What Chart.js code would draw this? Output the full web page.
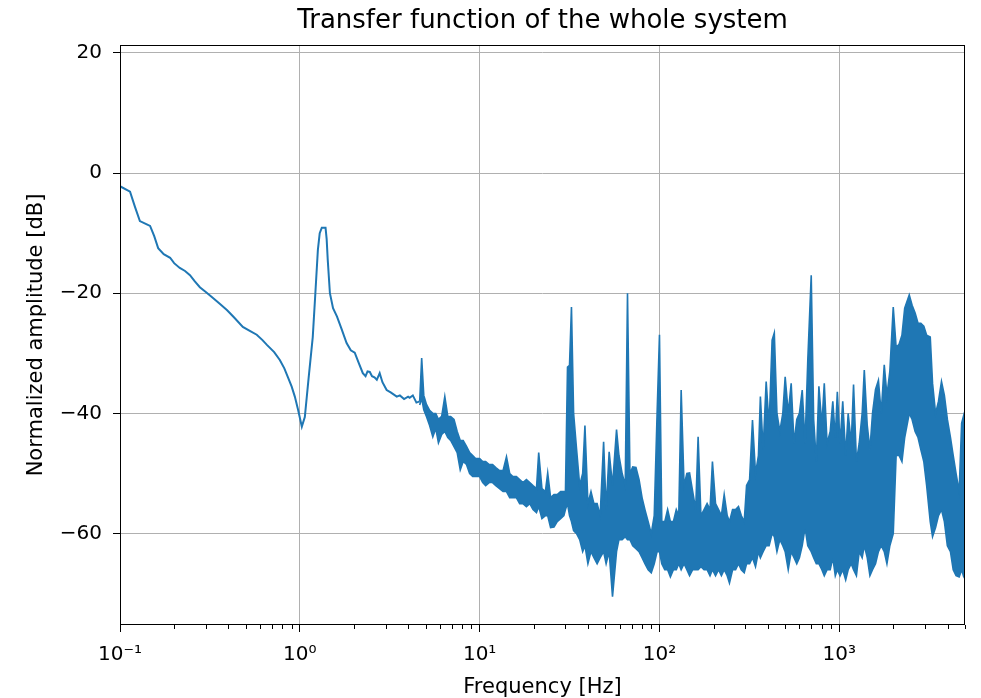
<!DOCTYPE html>
<html>
<head>
<meta charset="utf-8">
<title>Transfer function of the whole system</title>
<script src="https://cdn.jsdelivr.net/npm/chart.js@4.4.1/dist/chart.umd.min.js"></script>
<style>
  html, body { margin: 0; padding: 0; background: #fff; }
  canvas { display: block; }
</style>
</head>
<body>
<canvas id="chart" width="981" height="698"></canvas>
<script>
// Smooth part of the response (0.1 Hz - 4.5 Hz)
const lineFreq = [0.1, 0.1137, 0.121, 0.129, 0.14, 0.147, 0.155, 0.163, 0.175, 0.19, 0.2, 0.215, 0.23, 0.245, 0.26, 0.278,
  0.3, 0.329, 0.36, 0.393, 0.43, 0.482, 0.53, 0.576, 0.62, 0.656, 0.72, 0.774, 0.82, 0.857, 0.9, 0.938, 0.98, 1.026,
  1.066, 1.12, 1.18, 1.22, 1.26, 1.29, 1.325, 1.39, 1.41, 1.43, 1.47, 1.53, 1.61, 1.7, 1.82, 1.92, 2.02, 2.12, 2.24,
  2.32, 2.38, 2.45, 2.52, 2.6, 2.68, 2.78, 2.88, 3.04, 3.2, 3.46, 3.6, 3.8, 4.0, 4.08, 4.25, 4.45];
const lineAmp = [-2.2, -3.1, -5.6, -8.0, -8.5, -8.8, -10.5, -12.5, -13.5, -14.1, -15.0, -15.8, -16.3, -17.0, -18.0, -19.0,
  -19.8, -20.8, -21.8, -22.8, -24.0, -25.6, -26.3, -26.9, -27.8, -28.6, -29.8, -31.1, -32.5, -33.9, -35.5, -37.2, -39.5, -42.2,
  -40.6, -34.0, -27.3, -20.0, -12.8, -10.0, -9.1, -9.1, -11.0, -14.5, -20.0, -22.5, -23.9, -25.8, -28.3, -29.5, -29.9, -31.5, -33.3,
  -33.8, -33.0, -33.1, -33.8, -34.0, -34.4, -33.3, -34.8, -36.1, -36.5, -37.2, -37.0, -37.6, -37.2, -37.4, -37.0, -38.2];

// Noisy part (4.6 Hz - 5 kHz): upper and lower excursion at each frequency
const bandFreq = [4.64, 4.76, 4.89, 5.06, 5.27, 5.49, 5.7, 5.9, 6.15, 6.4, 6.65, 6.9, 7.2, 7.5, 7.8, 8.1, 8.45, 8.8,
  9.15, 9.5, 10.0, 10.4, 10.8, 11.3, 11.8, 12.3, 12.9, 13.5, 14.1, 14.7, 15.3, 16.0, 16.7, 17.4, 18.2, 19.0, 19.8,
  20.7, 21.3, 22.2, 23.2, 23.9, 24.8, 25.9, 27.0, 28.2, 29.4,
  30.0, 30.8, 31.6, 32.4, 33.3, 34.6, 36.0, 37.4, 38.5, 40.0, 41.6, 43.2, 45.0, 46.8, 48.9, 50.5, 52.5,
  54.8, 57.7, 59.5, 62.0, 64.5, 66.4, 68.5, 71.0, 74.0, 77.0, 80.0, 83.0, 86.5, 90.0, 93.5, 97.0, 100, 103, 107, 111,
  115, 119.5, 124, 128, 132, 137, 142, 147, 153, 159, 164, 170, 177, 184, 191, 197, 205, 213, 221, 229, 238, 245,
  255, 265, 275, 285, 296, 305, 317, 329, 342, 355, 364, 377, 392, 407, 423, 435, 450, 467, 485, 500, 520, 540,
  560, 580, 600, 622, 645, 668, 698, 720, 745, 770, 800, 825, 855, 890, 920, 950, 975, 1010, 1045, 1085, 1120,
  1165, 1200, 1245, 1290, 1340, 1377, 1430, 1480, 1530, 1590, 1650, 1710, 1778, 1840, 1910, 1995, 2070, 2150,
  2230, 2310, 2449, 2540, 2640, 2740, 2840, 2950, 3060, 3204, 3300, 3430, 3560, 3700, 3840, 3990, 4150, 4300,
  4460, 4640, 4790, 4900, 5000];
const bandHigh = [-38.0, -30.8, -37.0, -38.5, -39.5, -40.0, -40.0, -41.0, -40.5, -37.2, -40.5, -40.5, -41.0, -43.0, -44.5, -44.5, -45.5, -46.5,
  -47.0, -47.5, -47.5, -48.0, -48.0, -48.5, -48.5, -49.0, -49.5, -49.5, -47.2, -50.0, -50.5, -50.5, -51.0, -51.5, -51.0, -51.5, -52.0,
  -52.5, -46.5, -52.5, -53.0, -49.9, -54.0, -53.5, -53.5, -53.0, -53.0,
  -53.0, -32.3, -32.0, -22.3, -40.0, -46.0, -52.0, -50.0, -42.0, -55.0, -53.0, -55.0, -55.0, -57.0, -44.7, -56.0, -46.4,
  -52.0, -42.7, -47.0, -50.0, -52.0, -20.0, -50.0, -48.9, -49.0, -51.0, -54.0, -56.0, -58.0, -60.0, -57.0, -40.0, -26.9, -58.0, -58.0, -56.0,
  -58.0, -58.0, -56.0, -57.0, -36.1, -52.0, -50.0, -49.9, -53.0, -56.0, -43.9, -57.0, -56.0, -55.0, -56.0, -48.0, -55.0, -56.0, -57.0, -53.5, -57.0, -58.0,
  -56.0, -56.0, -55.5, -57.0, -58.0, -52.0, -51.0, -41.1, -50.0, -47.0, -37.2, -46.0, -34.7, -42.0, -27.8, -26.6, -40.0, -43.0, -40.0, -33.9, -40.0, -35.0,
  -45.0, -41.0, -40.0, -36.1, -45.0, -31.1, -17.0, -41.0, -48.0, -35.5, -42.0, -35.0, -45.0, -43.0, -38.0, -44.0, -36.4, -45.0, -38.0, -47.0, -40.0,
  -45.0, -35.2, -48.0, -45.0, -40.0, -32.8, -42.0, -46.0, -40.0, -36.0, -34.5, -40.0, -31.9, -37.0, -33.0, -22.3, -29.0, -28.5,
  -27.0, -22.5, -20.3, -22.0, -23.3, -25.0, -25.0, -25.5, -27.0, -27.3, -35.0, -40.0, -38.0, -34.7, -37.0, -41.0, -44.0, -47.0,
  -50.0, -53.0, -41.6, -40.5, -45.0];
const bandLow = [-38.6, -37.5, -39.4, -40.5, -42.0, -43.9, -42.5, -44.9, -43.5, -43.0, -44.0, -44.5, -45.5, -46.5, -49.4, -48.0, -48.5, -50.0,
  -50.5, -50.5, -50.5, -51.5, -52.0, -51.5, -51.5, -52.0, -52.5, -53.0, -53.0, -54.0, -54.0, -54.0, -55.0, -55.0, -55.5, -55.0, -56.0,
  -56.5, -55.5, -57.5, -57.0, -57.0, -59.0, -58.9, -58.0, -57.5, -57.0,
  -56.0, -55.0, -57.0, -58.0, -59.5, -60.0, -61.0, -63.0, -62.0, -65.0, -63.0, -64.0, -65.0, -64.0, -63.0, -65.0, -63.0,
  -70.5, -63.0, -61.0, -61.0, -60.5, -61.0, -61.0, -62.0, -62.5, -63.0, -64.0, -65.0, -66.0, -66.5, -65.0, -63.0, -63.0, -65.0, -66.0, -66.0,
  -67.2, -66.0, -66.0, -65.0, -66.0, -65.0, -66.0, -67.0, -66.0, -66.0, -66.0, -65.5, -66.0, -66.0, -67.0, -66.0, -67.0, -66.0, -67.0, -66.0, -67.0, -68.2,
  -66.0, -66.0, -65.0, -66.0, -66.5, -65.0, -65.0, -64.0, -65.5, -63.0, -64.0, -63.0, -62.0, -62.0, -60.0, -60.5, -63.0, -61.0, -62.0, -63.0, -66.0, -63.0,
  -64.0, -65.0, -64.0, -62.0, -59.0, -62.0, -63.0, -64.0, -65.0, -65.0, -66.0, -67.0, -66.0, -66.0, -64.0, -67.0, -66.0, -67.0, -66.0, -67.7, -66.0,
  -65.0, -66.0, -67.0, -63.0, -64.0, -62.0, -64.0, -67.0, -66.0, -65.0, -63.0, -62.0, -63.0, -65.0, -62.0, -60.0, -47.0, -47.0,
  -48.0, -44.0, -40.0, -41.0, -43.0, -44.0, -46.0, -48.0, -52.0, -58.0, -60.5, -59.0, -57.0, -56.0, -58.0, -62.0, -63.0, -66.0,
  -67.0, -67.2, -66.0, -67.0, -66.0];

const xTicks = [0.1, 0.2, 0.3, 0.4, 0.5, 0.6, 0.7, 0.8, 0.9, 1, 2, 3, 4, 5, 6, 7, 8, 9, 10, 20, 30, 40, 50, 60, 70, 80, 90,
  100, 200, 300, 400, 500, 600, 700, 800, 900, 1000, 2000, 3000, 4000, 5000];
const xLabels = { '-1': '10⁻¹', '0': '10⁰', '1': '10¹', '2': '10²', '3': '10³' };
const yTicks = [-60, -40, -20, 0, 20];
const chartTitle = 'Transfer function of the whole system';

function isDecade(v) {
    const l = Math.log10(v);
    return Math.abs(l - Math.round(l)) < 1e-9;
}

const BLUE = '#1f77b4';
const FONT = 'DejaVu Sans';

// smooth line, joined onto the first point of the noisy band
const linePoints = lineFreq.map((f, i) => ({ x: f, y: lineAmp[i] }));
linePoints.push({ x: bandFreq[0], y: bandHigh[0] });
const highPoints = bandFreq.map((f, i) => ({ x: f, y: bandHigh[i] }));
const lowPoints = bandFreq.map((f, i) => ({ x: f, y: bandLow[i] }));

const framePlugin = {
    id: 'frame',
    afterDraw(chart) {
        const { ctx, chartArea: a, scales } = chart;
        ctx.save();
        ctx.strokeStyle = '#000';
        ctx.lineWidth = 1;
        // minor ticks on the frequency axis
        xTicks.forEach(v => {
            if (isDecade(v)) return;
            const px = Math.round(scales.x.getPixelForValue(v)) + 0.5;
            ctx.beginPath();
            ctx.moveTo(px, a.bottom);
            ctx.lineTo(px, a.bottom + 4);
            ctx.stroke();
        });
        ctx.strokeRect(a.left + 0.5, a.top + 0.5, a.width - 1, a.height - 1);
        // title centred over the plot area
        ctx.fillStyle = '#000';
        ctx.font = '26px "' + FONT + '"';
        ctx.textAlign = 'center';
        ctx.textBaseline = 'middle';
        ctx.fillText(chartTitle, (a.left + a.right) / 2, 21);
        ctx.restore();
    }
};

new Chart(document.getElementById('chart').getContext('2d'), {
    type: 'line',
    data: {
        datasets: [
            { data: linePoints, borderColor: BLUE, borderWidth: 2, pointRadius: 0, tension: 0, fill: false },
            { data: highPoints, borderColor: BLUE, backgroundColor: BLUE, borderWidth: 1.6, pointRadius: 0, tension: 0, fill: '+1' },
            { data: lowPoints, borderColor: BLUE, borderWidth: 1.6, pointRadius: 0, tension: 0, fill: false }
        ]
    },
    options: {
        responsive: false,
        animation: false,
        layout: { padding: { left: 0, right: 16, top: 45, bottom: 0 } },
        plugins: {
            legend: { display: false },
            tooltip: { enabled: false },
            title: { display: false }
        },
        scales: {
            x: {
                type: 'logarithmic',
                min: 0.1,
                max: 5000,
                afterBuildTicks(scale) {
                    scale.ticks = xTicks.map(v => ({ value: v }));
                },
                afterFit(scale) { scale.height = 73; },
                ticks: {
                    autoSkip: false,
                    maxRotation: 0,
                    padding: 11,
                    color: '#000',
                    font: { family: FONT, size: 20 },
                    callback(value) {
                        if (!isDecade(value)) return '';
                        return xLabels[String(Math.round(Math.log10(value)))];
                    }
                },
                grid: {
                    color: ctx => (ctx.tick && isDecade(ctx.tick.value)) ? '#b0b0b0' : 'rgba(0,0,0,0)',
                    tickColor: ctx => (ctx.tick && isDecade(ctx.tick.value)) ? '#000' : 'rgba(0,0,0,0)',
                    lineWidth: 1,
                    tickLength: 7
                },
                border: { display: false },
                title: {
                    display: true,
                    text: 'Frequency [Hz]',
                    color: '#000',
                    font: { family: FONT, size: 21, lineHeight: 1 },
                    padding: { top: 0, bottom: 0 }
                }
            },
            y: {
                min: -75.2,
                max: 21.3,
                afterBuildTicks(scale) {
                    scale.ticks = yTicks.map(v => ({ value: v }));
                },
                afterFit(scale) { scale.width = 120; },
                ticks: {
                    padding: 11,
                    color: '#000',
                    font: { family: FONT, size: 20 },
                    callback: value => String(value).replace('-', '\u2212')
                },
                grid: {
                    color: '#b0b0b0',
                    tickColor: '#000',
                    lineWidth: 1,
                    tickLength: 7
                },
                border: { display: false },
                title: {
                    display: true,
                    text: 'Normalized amplitude [dB]',
                    color: '#000',
                    font: { family: FONT, size: 21 },
                    padding: { top: 24, bottom: 0 }
                }
            }
        }
    },
    plugins: [framePlugin]
});
</script>
</body>
</html>
